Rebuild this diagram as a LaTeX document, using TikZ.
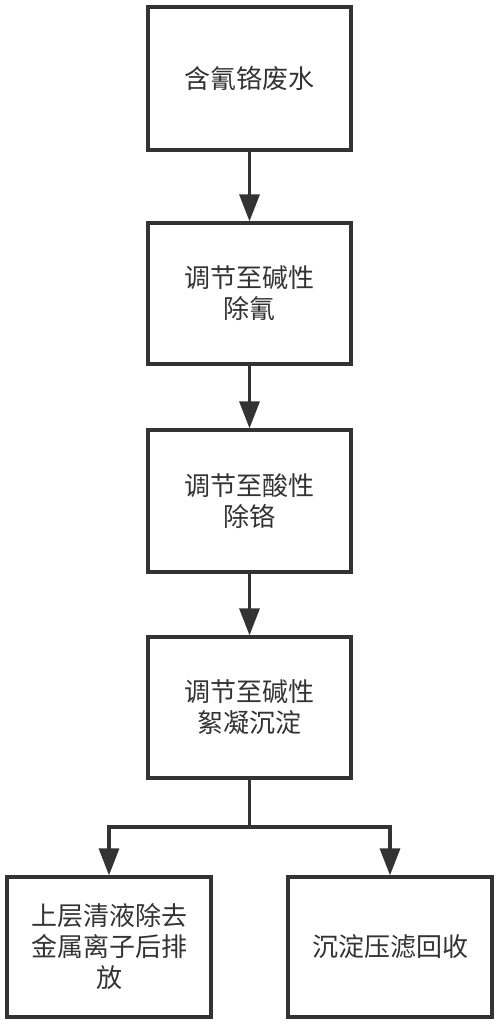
\documentclass[tikz,border=0pt]{standalone}
\usepackage{fontspec}
\setmainfont{Noto Sans CJK SC}
\usetikzlibrary{arrows.meta}
\definecolor{ink}{HTML}{333333}
\begin{document}
\begin{tikzpicture}[x=1pt,y=-1pt,
  box/.style={draw=ink,line width=3.3pt,rectangle,minimum width=203pt,align=center,text=ink,font=\fontsize{26}{31}\selectfont,inner sep=0pt},
  arr/.style={draw=ink,line width=3.3pt,-{Triangle[width=20pt,length=27pt]}},
  ln/.style={draw=ink,line width=3.3pt}]
\useasboundingbox (0,0) rectangle (500,1027);
\node[box,minimum height=143pt] (b1) at (249.5,78.5) {含氰铬废水};
\node[box,minimum height=141pt] (b2) at (249.5,293.5) {调节至碱性\\除氰};
\node[box,minimum height=142pt] (b3) at (249.5,501) {调节至酸性\\除铬};
\node[box,minimum height=141pt] (b4) at (249.5,707.5) {调节至碱性\\絮凝沉淀};
\node[box,minimum height=140pt,minimum width=204pt] (b5) at (109,947) {上层清液除去\\金属离子后排\\放};
\node[box,minimum height=140pt,minimum width=204pt] (b6) at (390,947) {沉淀压滤回收};
\coordinate (j) at (249.5,827);
\draw[arr] (b1) -- (b2);
\draw[arr] (b2) -- (b3);
\draw[arr] (b3) -- (b4);
\draw[ln] (b4) -- (j);
\draw[arr] (j) -| (b5);
\draw[arr] (j) -| (b6);
\end{tikzpicture}
\end{document}
